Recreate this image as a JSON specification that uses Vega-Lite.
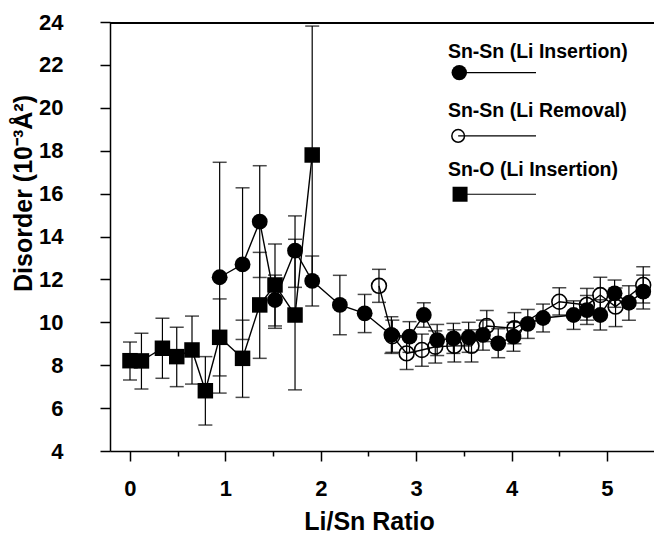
{
  "$schema": "https://vega.github.io/schema/vega-lite/v6.json",
  "autosize": {"type": "none"},
  "padding": {"left": 110, "top": 22, "right": 0, "bottom": 82},
  "width": 544,
  "height": 429,
  "background": "white",
  "config": {
    "view": {"stroke": null},
    "font": "Liberation Sans",
    "axis": {"grid": false, "domainColor": "black", "tickColor": "black", "domainWidth": 1.5, "tickWidth": 1.5, "labelColor": "black", "titleColor": "black", "labelFont": "Liberation Sans", "titleFont": "Liberation Sans", "labelFontWeight": "bold", "titleFontWeight": "bold", "labelFontSize": 22, "titleFontSize": 25}
  },
  "datasets": {
    "pts": [
      {"series": "o", "x": 0.0, "y": 8.21, "lo": 7.31, "hi": 9.08},
      {"series": "o", "x": 0.12, "y": 8.2, "lo": 6.89, "hi": 9.49},
      {"series": "o", "x": 0.34, "y": 8.79, "lo": 7.39, "hi": 10.19},
      {"series": "o", "x": 0.49, "y": 8.4, "lo": 7.0, "hi": 9.77},
      {"series": "o", "x": 0.65, "y": 8.71, "lo": 7.12, "hi": 10.29},
      {"series": "o", "x": 0.79, "y": 6.81, "lo": 5.21, "hi": 8.4},
      {"series": "o", "x": 0.94, "y": 9.3, "lo": 7.5, "hi": 11.09},
      {"series": "o", "x": 1.18, "y": 8.32, "lo": 6.5, "hi": 10.1},
      {"series": "o", "x": 1.36, "y": 10.81, "lo": 8.32, "hi": 13.26},
      {"series": "o", "x": 1.52, "y": 11.74, "lo": 9.83, "hi": 13.65},
      {"series": "o", "x": 1.73, "y": 10.34, "lo": 6.85, "hi": 13.87},
      {"series": "o", "x": 1.91, "y": 17.8, "lo": 11.8, "hi": 23.81},
      {"series": "ins", "x": 0.94, "y": 12.1, "lo": 6.7, "hi": 17.46},
      {"series": "ins", "x": 1.18, "y": 12.7, "lo": 9.2, "hi": 16.27},
      {"series": "ins", "x": 1.36, "y": 14.69, "lo": 12.09, "hi": 17.3},
      {"series": "ins", "x": 1.52, "y": 11.04, "lo": 9.72, "hi": 12.2},
      {"series": "ins", "x": 1.73, "y": 13.34, "lo": 11.63, "hi": 14.96},
      {"series": "ins", "x": 1.91, "y": 11.93, "lo": 10.76, "hi": 13.09},
      {"series": "ins", "x": 2.2, "y": 10.81, "lo": 9.42, "hi": 12.19},
      {"series": "ins", "x": 2.46, "y": 10.42, "lo": 9.52, "hi": 11.3},
      {"series": "ins", "x": 2.74, "y": 9.41, "lo": 8.55, "hi": 10.26},
      {"series": "ins", "x": 2.93, "y": 9.33, "lo": 8.6, "hi": 10.03},
      {"series": "ins", "x": 3.08, "y": 10.34, "lo": 9.77, "hi": 10.91},
      {"series": "ins", "x": 3.22, "y": 9.17, "lo": 8.45, "hi": 9.9},
      {"series": "ins", "x": 3.39, "y": 9.25, "lo": 8.55, "hi": 9.95},
      {"series": "ins", "x": 3.55, "y": 9.3, "lo": 8.6, "hi": 10.0},
      {"series": "ins", "x": 3.7, "y": 9.41, "lo": 8.7, "hi": 10.1},
      {"series": "ins", "x": 3.86, "y": 9.02, "lo": 8.35, "hi": 9.7},
      {"series": "ins", "x": 4.02, "y": 9.33, "lo": 8.65, "hi": 10.0},
      {"series": "ins", "x": 4.17, "y": 9.93, "lo": 9.25, "hi": 10.6},
      {"series": "ins", "x": 4.33, "y": 10.2, "lo": 9.55, "hi": 10.85},
      {"series": "ins", "x": 4.65, "y": 10.34, "lo": 9.67, "hi": 11.0},
      {"series": "ins", "x": 4.79, "y": 10.57, "lo": 9.9, "hi": 11.25},
      {"series": "ins", "x": 4.93, "y": 10.34, "lo": 9.64, "hi": 11.05},
      {"series": "ins", "x": 5.08, "y": 11.35, "lo": 10.7, "hi": 11.97},
      {"series": "ins", "x": 5.23, "y": 10.91, "lo": 10.1, "hi": 11.7},
      {"series": "ins", "x": 5.38, "y": 11.43, "lo": 10.62, "hi": 12.2},
      {"series": "rem", "x": 2.61, "y": 11.7, "lo": 10.93, "hi": 12.47},
      {"series": "rem", "x": 2.75, "y": 9.35, "lo": 8.6, "hi": 10.1},
      {"series": "rem", "x": 2.9, "y": 8.55, "lo": 7.8, "hi": 9.3},
      {"series": "rem", "x": 3.06, "y": 8.71, "lo": 7.95, "hi": 9.45},
      {"series": "rem", "x": 3.2, "y": 8.86, "lo": 8.1, "hi": 9.6},
      {"series": "rem", "x": 3.4, "y": 8.9, "lo": 8.15, "hi": 9.65},
      {"series": "rem", "x": 3.58, "y": 8.9, "lo": 8.15, "hi": 9.65},
      {"series": "rem", "x": 3.74, "y": 9.83, "lo": 9.1, "hi": 10.55},
      {"series": "rem", "x": 4.03, "y": 9.72, "lo": 9.0, "hi": 10.45},
      {"series": "rem", "x": 4.5, "y": 10.96, "lo": 10.34, "hi": 11.61},
      {"series": "rem", "x": 4.79, "y": 10.81, "lo": 10.1, "hi": 11.58},
      {"series": "rem", "x": 4.93, "y": 11.27, "lo": 10.5, "hi": 12.1},
      {"series": "rem", "x": 5.09, "y": 10.73, "lo": 9.8, "hi": 11.6},
      {"series": "rem", "x": 5.38, "y": 11.74, "lo": 10.9, "hi": 12.59}
    ],
    "legend": [
      {"key": "ins", "label": "Sn-Sn (Li Insertion)"},
      {"key": "rem", "label": "Sn-Sn (Li Removal)"},
      {"key": "o", "label": "Sn-O (Li Insertion)"}
    ]
  },
  "layer": [
    {"data": {"name": "pts"}, "mark": {"type": "rule", "color": "black", "strokeWidth": 1.2},
      "encoding": {
        "x": {"field": "x", "type": "quantitative", "scale": {"domain": [-0.2096, 5.493], "nice": false, "zero": false},
          "axis": {"title": "Li/Sn Ratio", "values": [0, 0.5, 1, 1.5, 2, 2.5, 3, 3.5, 4, 4.5, 5], "labelExpr": "datum.value % 1 == 0 ? format(datum.value, 'd') : ''", "tickSize": {"condition": {"test": "datum.value % 1 != 0", "value": 5}, "value": 10}, "labelPadding": 17, "titlePadding": 10, "titleX": 259}},
        "y": {"field": "lo", "type": "quantitative", "scale": {"domain": [4, 24], "nice": false, "zero": false},
          "axis": {"title": "Disorder (10⁻³Å²)", "values": [4, 5, 6, 7, 8, 9, 10, 11, 12, 13, 14, 15, 16, 17, 18, 19, 20, 21, 22, 23, 24], "labelExpr": "datum.value % 2 == 0 ? format(datum.value, 'd') : ''", "tickSize": {"condition": {"test": "datum.value % 2 != 0", "value": 5}, "value": 10}, "labelPadding": 37, "titlePadding": 2, "titleY": 171}},
        "y2": {"field": "hi"}
      }},
    {"data": {"name": "pts"}, "mark": {"type": "tick", "color": "black", "orient": "horizontal", "size": 14, "thickness": 1.5}, "encoding": {"x": {"field": "x", "type": "quantitative"}, "y": {"field": "lo", "type": "quantitative"}}},
    {"data": {"name": "pts"}, "mark": {"type": "tick", "color": "black", "orient": "horizontal", "size": 14, "thickness": 1.5}, "encoding": {"x": {"field": "x", "type": "quantitative"}, "y": {"field": "hi", "type": "quantitative"}}},
    {"data": {"name": "pts"}, "mark": {"type": "line", "color": "black", "strokeWidth": 1.4}, "encoding": {"x": {"field": "x", "type": "quantitative"}, "y": {"field": "y", "type": "quantitative"}, "detail": {"field": "series"}}},
    {"data": {"name": "pts"}, "transform": [{"filter": "datum.series == 'rem'"}], "mark": {"type": "point", "shape": "circle", "filled": false, "stroke": "black", "strokeWidth": 1.6, "size": 220, "opacity": 1}, "encoding": {"x": {"field": "x", "type": "quantitative"}, "y": {"field": "y", "type": "quantitative"}}},
    {"data": {"name": "pts"}, "transform": [{"filter": "datum.series == 'ins'"}], "mark": {"type": "point", "shape": "circle", "filled": true, "color": "black", "size": 250, "opacity": 1}, "encoding": {"x": {"field": "x", "type": "quantitative"}, "y": {"field": "y", "type": "quantitative"}}},
    {"data": {"name": "pts"}, "transform": [{"filter": "datum.series == 'o'"}], "mark": {"type": "point", "shape": "square", "filled": true, "color": "black", "size": 240, "opacity": 1}, "encoding": {"x": {"field": "x", "type": "quantitative"}, "y": {"field": "y", "type": "quantitative"}}},
    {"data": {"name": "legend"}, "transform": [{"filter": "datum.key == 'ins'"}], "mark": {"type": "rule", "color": "black", "strokeWidth": 2}, "encoding": {"x": {"datum": -0.2096}, "x2": {"datum": 5.493}, "y": {"datum": 23.95}}},
    {"data": {"name": "legend"}, "transform": [{"filter": "datum.key == 'ins'"}], "mark": {"type": "text", "align": "left", "baseline": "middle", "fontSize": 19.5, "fontWeight": "bold", "font": "Liberation Sans", "color": "black"}, "encoding": {"x": {"datum": 3.333}, "y": {"datum": 22.62}, "text": {"field": "label"}}},
    {"data": {"name": "legend"}, "transform": [{"filter": "datum.key == 'rem'"}], "mark": {"type": "text", "align": "left", "baseline": "middle", "fontSize": 19.5, "fontWeight": "bold", "font": "Liberation Sans", "color": "black"}, "encoding": {"x": {"datum": 3.333}, "y": {"datum": 19.86}, "text": {"field": "label"}}},
    {"data": {"name": "legend"}, "transform": [{"filter": "datum.key == 'o'"}], "mark": {"type": "text", "align": "left", "baseline": "middle", "fontSize": 19.5, "fontWeight": "bold", "font": "Liberation Sans", "color": "black"}, "encoding": {"x": {"datum": 3.333}, "y": {"datum": 17.1}, "text": {"field": "label"}}},
    {"data": {"name": "legend"}, "transform": [{"filter": "datum.key == 'ins'"}], "mark": {"type": "rule", "color": "black", "strokeWidth": 1.2}, "encoding": {"x": {"datum": 3.452}, "x2": {"datum": 4.256}, "y": {"datum": 21.64}}},
    {"data": {"name": "legend"}, "transform": [{"filter": "datum.key == 'rem'"}], "mark": {"type": "rule", "color": "black", "strokeWidth": 1.2}, "encoding": {"x": {"datum": 3.44}, "x2": {"datum": 4.256}, "y": {"datum": 18.69}}},
    {"data": {"name": "legend"}, "transform": [{"filter": "datum.key == 'o'"}], "mark": {"type": "rule", "color": "black", "strokeWidth": 1.2}, "encoding": {"x": {"datum": 3.46}, "x2": {"datum": 4.256}, "y": {"datum": 15.97}}},
    {"data": {"name": "legend"}, "transform": [{"filter": "datum.key == 'ins'"}], "mark": {"type": "point", "shape": "circle", "filled": true, "color": "black", "size": 240, "opacity": 1}, "encoding": {"x": {"datum": 3.452}, "y": {"datum": 21.64}}},
    {"data": {"name": "legend"}, "transform": [{"filter": "datum.key == 'rem'"}], "mark": {"type": "point", "shape": "circle", "filled": false, "stroke": "black", "strokeWidth": 1.5, "size": 160, "opacity": 1}, "encoding": {"x": {"datum": 3.44}, "y": {"datum": 18.69}}},
    {"data": {"name": "legend"}, "transform": [{"filter": "datum.key == 'o'"}], "mark": {"type": "point", "shape": "square", "filled": true, "color": "black", "size": 225, "opacity": 1}, "encoding": {"x": {"datum": 3.46}, "y": {"datum": 15.97}}}
  ]
}
